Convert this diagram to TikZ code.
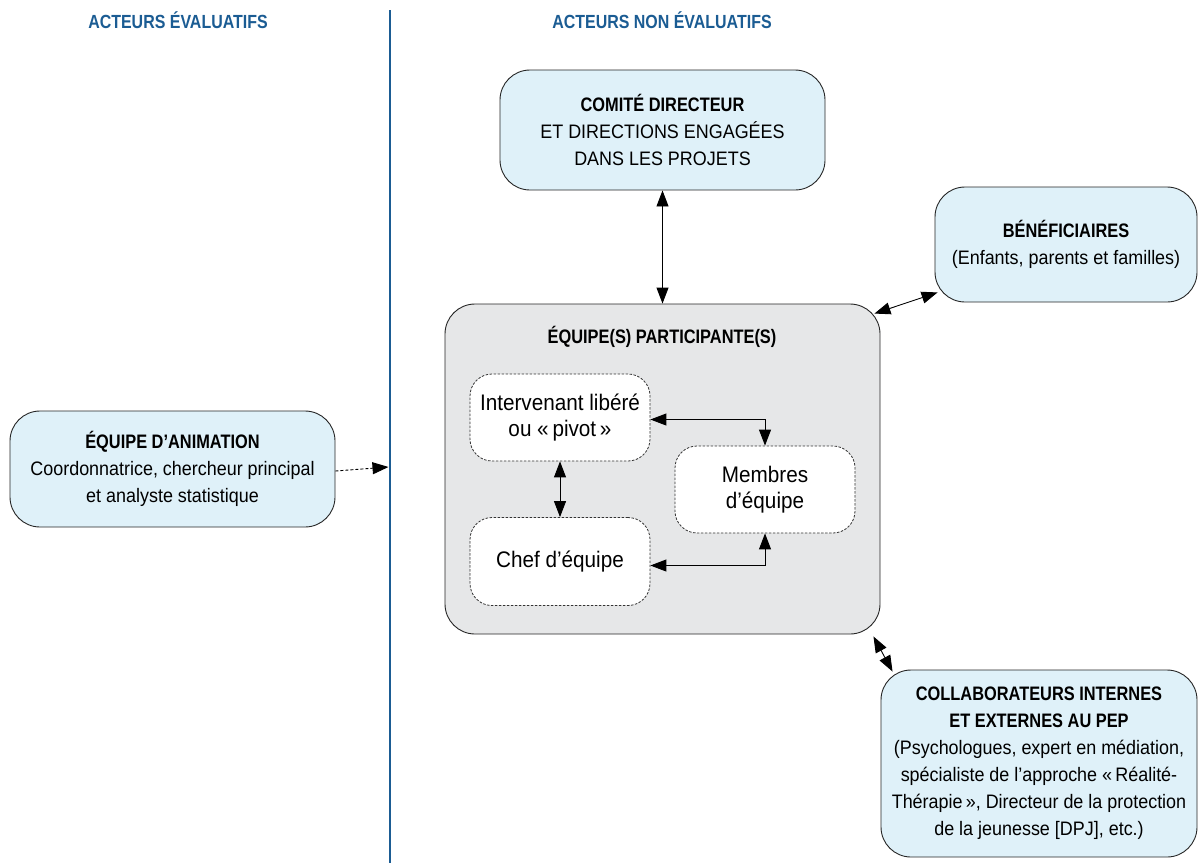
\documentclass[tikz,border=0pt]{standalone}
\usepackage{fontspec}
\setmainfont{Liberation Sans}[FakeStretch=0.92, BoldFeatures={FakeStretch=0.84}]
\usetikzlibrary{arrows.meta}

\definecolor{bleuboite}{HTML}{DFF1F9}
\definecolor{grisboite}{HTML}{E6E7E8}
\definecolor{bleutitre}{HTML}{1B5C93}

\tikzset{
  acteur/.style={draw=black!85, fill=bleuboite, line width=0.9pt, rounded corners=30pt,
    inner sep=0pt, align=center, font=\fontsize{19.5}{27}\selectfont},
  membre/.style={draw=black!80, fill=white, line width=0.8pt, dash pattern=on 2.5pt off 1.5pt,
    rounded corners=22pt, inner sep=0pt, align=center, font=\fontsize{22.5}{26}\selectfont},
  entete/.style={text=bleutitre, font=\fontsize{19}{22}\selectfont\bfseries},
  lien/.style={{Triangle[length=16pt,width=12pt]}-{Triangle[length=16pt,width=12pt]}, line width=0.9pt},
}

\begin{document}
\begin{tikzpicture}[x=1pt, y=-1pt]
  \useasboundingbox (0,0) rectangle (1198,863);

  \node[entete] (evaluatifs) at (178,20) {ACTEURS ÉVALUATIFS};
  \node[entete] (nonevaluatifs) at (662,20) {ACTEURS NON ÉVALUATIFS};
  \coordinate (lignehaut) at (390,10);
  \coordinate (lignebas) at (390,863);
  \draw[bleutitre, line width=2pt] (lignehaut) -- (lignebas);

  \node[acteur, minimum width=325pt, minimum height=120pt] (comite) at (662.5,130)
    {\textbf{COMITÉ DIRECTEUR}\\ET DIRECTIONS ENGAGÉES\\DANS LES PROJETS};
  \node[acteur, minimum width=262pt, minimum height=115pt] (benef) at (1066,244.5)
    {\textbf{BÉNÉFICIAIRES}\\(Enfants, parents et familles)};
  \node[acteur, minimum width=325pt, minimum height=116pt] (animation) at (172.5,469)
    {\textbf{ÉQUIPE D’ANIMATION}\\Coordonnatrice, chercheur principal\\et analyste statistique};
  \node[acteur, minimum width=316pt, minimum height=187pt] (collab) at (1039,763.5)
    {\textbf{COLLABORATEURS INTERNES}\\\textbf{ET EXTERNES AU PEP}\\(Psychologues, expert en médiation,\\spécialiste de l’approche «\,Réalité-\\Thérapie\,», Directeur de la protection\\de la jeunesse [DPJ], etc.)};

  \node[draw=black!85, fill=grisboite, line width=0.9pt, rounded corners=30pt,
    minimum width=435pt, minimum height=330pt] (equipe) at (662.5,469) {};
  \node[font=\fontsize{19.5}{22}\selectfont\bfseries] (titre) at (662,337) {ÉQUIPE(S) PARTICIPANTE(S)};

  \node[membre, minimum width=180pt, minimum height=87pt] (intervenant) at (560,417.5)
    {Intervenant libéré\\ou «\,pivot\,»};
  \node[membre, minimum width=180pt, minimum height=87pt] (membres) at (765,489.5)
    {Membres\\d’équipe};
  \node[membre, minimum width=180pt, minimum height=88pt] (chef) at (560,561.5)
    {Chef d’équipe};

  \coordinate (cible) at (388.5,467);
  \draw[lien] (comite) -- (equipe);
  \draw[lien] ([xshift=3pt,yshift=10pt]benef.south west) -- ([xshift=-6pt,yshift=-10pt]equipe.north east);
  \draw[lien] ([xshift=-7pt,yshift=-2pt]equipe.south east) -- ([xshift=12pt,yshift=-2pt]collab.north west);
  \draw[lien] ([yshift=-2pt]intervenant.east) -| (membres.north);
  \draw[lien] ([yshift=-4pt]chef.east) -| (membres.south);
  \draw[lien] (intervenant) -- (chef);
  \draw[-{Triangle[length=16pt,width=12pt]}, line width=0.9pt, dash pattern=on 3pt off 2pt]
    ([yshift=-2pt]animation.east) -- (cible);
\end{tikzpicture}
\end{document}
